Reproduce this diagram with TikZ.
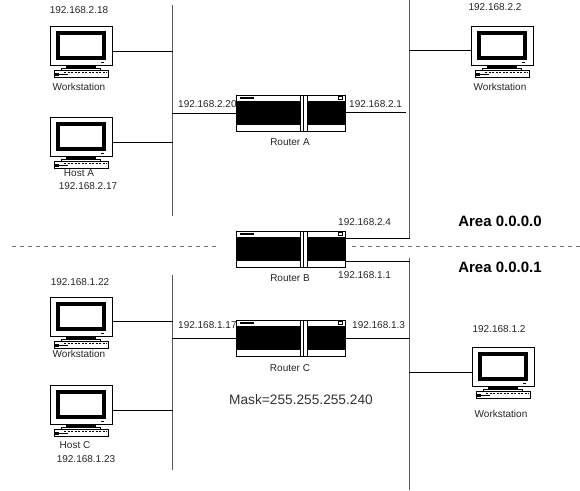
\documentclass[tikz,border=0pt]{standalone}
\usepackage{fontspec}
\setmainfont{Liberation Sans}
\usetikzlibrary{calc}
\tikzset{
  bus/.style={draw=black!65,line width=1pt},
  link/.style={draw=black,line width=.8pt},
  area/.style={draw=black!55,line width=.7pt,dash pattern=on 4pt off 4pt},
  lbl/.style={inner sep=0,font=\fontsize{10}{10}\selectfont,text=black!85},
  area text/.style={inner sep=0,font=\fontsize{15}{15}\selectfont\bfseries},
  monitor/.style={draw,line width=.8pt,fill=white,minimum width=62pt,minimum height=39pt,inner sep=0,anchor=north west},
  routerbox/.style={draw,line width=.9pt,fill=white,minimum width=109pt,minimum height=36pt,inner sep=0,anchor=north west}
}
\newcommand{\pcat}[3]{%
  \node[monitor] (#1) at (#2,#3) {};
  \begin{scope}[shift={(#2,#3)}]
    \draw[line width=4pt,fill=white] (8,7) rectangle (54,32);
    \fill (51,35.5) rectangle (54,37);
    \fill (16,39.5) rectangle (46,42);
    \draw[line width=.7pt] (11,42) rectangle (50,44);
    \draw[line width=.7pt,fill=white] (4,44.5) rectangle (58,51);
    \draw[line width=.6pt,dash pattern=on 2pt off 1.5pt] (14,46.5) -- (57,46.5);
    \fill (5,47) rectangle (9,50);
    \draw[line width=.7pt] (9,48.5) -- (18,48.5);
  \end{scope}}
\newcommand{\routerat}[3]{%
  \node[routerbox] (#1) at (#2,#3) {};
  \begin{scope}[shift={(#2,#3)}]
    \fill (0,5.5) rectangle (109,30);
    \fill[white] (64,0) rectangle (71,36);
    \draw[line width=.7pt] (64,0) -- (64,36) (67.5,0) -- (67.5,36) (71,0) -- (71,36);
    \fill (4,2.2) rectangle (18,3.6);
    \draw[line width=.6pt] (102,1.5) rectangle (106.5,4.5);
    \draw[line width=.9pt] (0,0) rectangle (109,36);
  \end{scope}}
\begin{document}
\begin{tikzpicture}[x=1pt,y=-1pt]
\useasboundingbox (0,0) rectangle (580,490);
% LAN buses
\coordinate (la) at (172,5);
\coordinate (lb) at (172,216);
\coordinate (lc) at (172,275);
\coordinate (ld) at (172,470);
\coordinate (ra) at (409,0);
\coordinate (rb) at (409,238);
\coordinate (rc) at (409,258);
\coordinate (rd) at (409,490);
\draw[bus] (la) -- (lb);
\draw[bus] (lc) -- (ld);
\draw[bus] (ra) -- (rb);
\draw[bus] (rc) -- (rd);
% area boundary
\coordinate (d1) at (12,246);
\coordinate (d2) at (216,246);
\coordinate (d3) at (352,246);
\coordinate (d4) at (580,246);
\draw[area] (d1) -- (d2);
\draw[area] (d3) -- (d4);
% devices
\pcat{w1}{50}{26}
\pcat{ha}{50}{117}
\pcat{w2}{471}{26}
\pcat{w3}{50}{297}
\pcat{hc}{50}{385}
\pcat{w4}{472}{347}
\routerat{rta}{236}{95}
\routerat{rtb}{236}{231}
\routerat{rtc}{236}{320}
% connectors
\draw[link] ([yshift=-5pt]w1.east) -- ++(60,0);
\draw[link] ([yshift=-5pt]ha.east) -- ++(60,0);
\draw[link] ([yshift=-4pt]w3.east) -- ++(60,0);
\draw[link] ([yshift=-5pt]hc.east) -- ++(60,0);
\draw[link] ([yshift=-4pt]w2.west) -- ++(-62,0);
\draw[link] ([yshift=-5pt]w4.west) -- ++(-63,0);
\draw[link] ([yshift=0pt]rta.west) -- ++(-64,0);
\draw[link] ([yshift=1pt]rta.east) -- ++(60,0);
\draw[link] ([yshift=11.5pt]rtb.east) -- ++(64,0);
\draw[link] ([yshift=-11.5pt]rtb.east) -- ++(64,0);
\draw[link] (rtc.west) -- ++(-64,0);
\draw[link] (rtc.east) -- ++(64,0);
% labels
\node[lbl] (t1) at (79,10) {192.168.2.18};
\node[lbl] (t2) at (79,87) {Workstation};
\node[lbl] (t3) at (79,173) {Host A};
\node[lbl] (t4) at (88,186) {192.168.2.17};
\node[lbl] (t5) at (495,7) {192.168.2.2};
\node[lbl] (t6) at (500,87) {Workstation};
\node[lbl] (t7) at (290,142) {Router A};
\node[lbl] (t8) at (290,278) {Router B};
\node[lbl] (t9) at (290,368) {Router C};
\node[lbl,anchor=west] (t10) at (178,104) {192.168.2.20};
\node[lbl,anchor=west] (t11) at (349,104) {192.168.2.1};
\node[lbl,anchor=west] (t12) at (338,222) {192.168.2.4};
\node[lbl,anchor=west] (t13) at (338,275) {192.168.1.1};
\node[lbl,anchor=west] (t14) at (178,325) {192.168.1.17};
\node[lbl,anchor=west] (t15) at (352,325) {192.168.1.3};
\node[lbl] (t16) at (80,282) {192.168.1.22};
\node[lbl] (t17) at (79,354) {Workstation};
\node[lbl] (t18) at (75,445) {Host C};
\node[lbl] (t19) at (86,459) {192.168.1.23};
\node[lbl] (t20) at (499,329) {192.168.1.2};
\node[lbl] (t21) at (501,414) {Workstation};
\node[area text] (t22) at (500,221) {Area 0.0.0.0};
\node[area text] (t23) at (500,267) {Area 0.0.0.1};
\node[inner sep=0,font=\fontsize{13.7}{14}\selectfont,text=black!80] (t24) at (301,400) {Mask=255.255.255.240};
\end{tikzpicture}
\end{document}
